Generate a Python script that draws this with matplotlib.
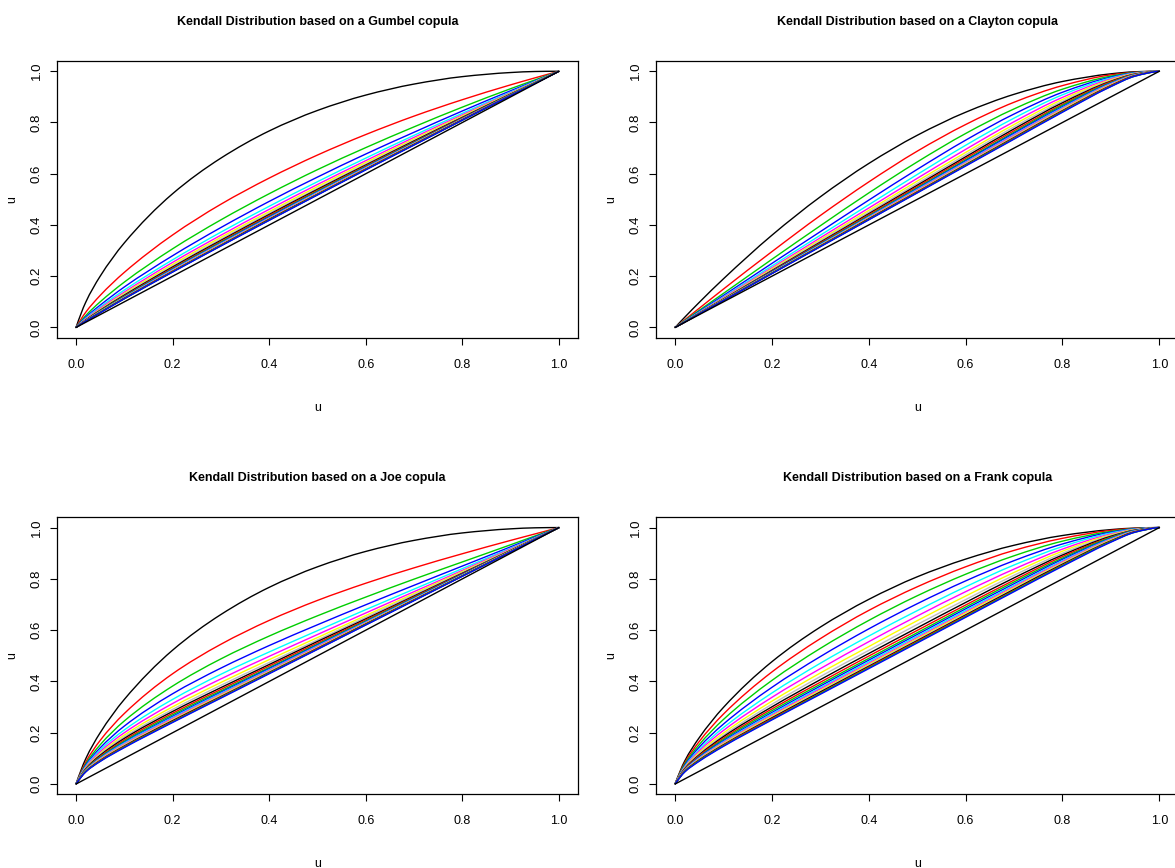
import numpy as np
import matplotlib
matplotlib.use("Agg")
import matplotlib.pyplot as plt
from matplotlib.path import Path
from matplotlib.patches import PathPatch

# grid of u values where the curves were read
u = [0, 0.02, 0.05, 0.1, 0.2, 0.3, 0.4, 0.5, 0.6, 0.7, 0.8, 0.9, 0.95, 1]

# one row per curve (parameter 1..20)
gumbel = [
    [0, .098, .200, .330, .522, .661, .767, .847, .907, .950, .979, .995, .999, 1],
    [0, .059, .125, .215, .361, .481, .583, .673, .753, .825, .889, .947, .974, 1],
    [0, .046, .100, .177, .307, .420, .522, .616, .702, .783, .860, .932, .966, 1],
    [0, .040, .087, .158, .280, .390, .492, .587, .677, .762, .845, .924, .962, 1],
    [0, .036, .080, .146, .264, .372, .473, .569, .661, .750, .836, .919, .960, 1],
    [0, .033, .075, .138, .254, .360, .461, .558, .651, .742, .830, .916, .958, 1],
    [0, .031, .071, .133, .246, .352, .452, .550, .644, .736, .826, .914, .957, 1],
    [0, .030, .069, .129, .240, .345, .446, .543, .638, .731, .822, .912, .956, 1],
    [0, .029, .067, .126, .236, .340, .441, .539, .634, .728, .820, .911, .955, 1],
    [0, .028, .065, .123, .232, .336, .437, .535, .631, .725, .818, .909, .955, 1],
    [0, .027, .064, .121, .229, .333, .433, .532, .628, .723, .816, .909, .954, 1],
    [0, .027, .062, .119, .227, .330, .431, .529, .626, .721, .815, .908, .954, 1],
    [0, .026, .062, .118, .225, .328, .428, .527, .624, .719, .814, .907, .954, 1],
    [0, .026, .061, .116, .223, .326, .426, .525, .622, .718, .813, .907, .953, 1],
    [0, .025, .060, .115, .221, .324, .424, .523, .620, .717, .812, .906, .953, 1],
    [0, .025, .059, .114, .220, .323, .423, .522, .619, .716, .811, .906, .953, 1],
    [0, .025, .059, .114, .219, .321, .422, .520, .618, .715, .811, .906, .953, 1],
    [0, .024, .058, .113, .218, .320, .420, .519, .617, .714, .810, .905, .953, 1],
    [0, .024, .058, .112, .217, .319, .419, .518, .616, .713, .809, .905, .953, 1],
    [0, .024, .057, .112, .216, .318, .418, .517, .615, .712, .809, .905, .952, 1],
]

clayton = [
    [0, .040, .098, .190, .360, .510, .640, .750, .840, .910, .960, .990, .998, 1],
    [0, .030, .075, .150, .296, .437, .568, .688, .792, .879, .944, .986, .996, 1],
    [0, .027, .067, .133, .266, .397, .525, .646, .757, .853, .930, .981, .995, 1],
    [0, .025, .063, .125, .250, .374, .497, .617, .731, .833, .918, .977, .994, 1],
    [0, .024, .060, .120, .240, .360, .479, .597, .711, .817, .908, .974, .993, 1],
    [0, .023, .058, .117, .233, .350, .466, .582, .695, .803, .898, .970, .992, 1],
    [0, .023, .057, .114, .229, .343, .457, .571, .683, .792, .890, .967, .991, 1],
    [0, .023, .056, .113, .225, .338, .450, .562, .674, .783, .883, .964, .990, 1],
    [0, .022, .056, .111, .222, .333, .444, .555, .666, .775, .877, .961, .989, 1],
    [0, .022, .055, .110, .220, .330, .440, .550, .660, .768, .871, .959, .988, 1],
    [0, .022, .055, .109, .218, .327, .436, .545, .654, .762, .867, .956, .987, 1],
    [0, .022, .054, .108, .217, .325, .433, .542, .650, .758, .862, .954, .986, 1],
    [0, .022, .054, .108, .215, .323, .431, .539, .646, .753, .858, .952, .986, 1],
    [0, .021, .054, .107, .214, .321, .429, .536, .643, .750, .855, .950, .985, 1],
    [0, .021, .053, .107, .213, .320, .427, .533, .640, .746, .852, .948, .984, 1],
    [0, .021, .053, .106, .213, .319, .425, .531, .638, .744, .849, .946, .983, 1],
    [0, .021, .053, .106, .212, .318, .424, .529, .635, .741, .846, .944, .983, 1],
    [0, .021, .053, .106, .211, .317, .422, .528, .633, .739, .844, .943, .982, 1],
    [0, .021, .053, .105, .211, .316, .421, .526, .632, .737, .842, .941, .981, 1],
    [0, .021, .053, .105, .210, .315, .420, .525, .630, .735, .840, .940, .981, 1],
]

joe = [
    [0, .098, .200, .330, .522, .661, .767, .847, .907, .950, .979, .995, .999, 1],
    [0, .085, .170, .275, .430, .545, .638, .716, .783, .843, .898, .950, .975, 1],
    [0, .078, .153, .246, .382, .488, .577, .656, .729, .799, .866, .933, .967, 1],
    [0, .073, .141, .226, .352, .452, .540, .621, .699, .775, .850, .925, .963, 1],
    [0, .069, .133, .211, .330, .428, .515, .598, .680, .760, .840, .920, .960, 1],
    [0, .066, .126, .200, .314, .410, .498, .583, .667, .750, .833, .917, .958, 1],
    [0, .063, .120, .191, .301, .396, .485, .571, .657, .743, .829, .914, .957, 1],
    [0, .061, .116, .184, .291, .385, .474, .562, .650, .738, .825, .913, .956, 1],
    [0, .059, .112, .178, .283, .376, .466, .556, .644, .733, .822, .911, .956, 1],
    [0, .057, .108, .172, .276, .369, .460, .550, .640, .730, .820, .910, .955, 1],
    [0, .056, .105, .167, .270, .363, .454, .545, .636, .727, .818, .909, .955, 1],
    [0, .054, .102, .163, .264, .358, .450, .542, .633, .725, .817, .908, .954, 1],
    [0, .053, .100, .160, .260, .354, .446, .539, .631, .723, .815, .908, .954, 1],
    [0, .052, .098, .156, .256, .350, .443, .536, .629, .721, .814, .907, .954, 1],
    [0, .051, .096, .153, .252, .347, .440, .533, .627, .720, .813, .907, .953, 1],
    [0, .050, .094, .151, .249, .344, .438, .531, .625, .719, .813, .906, .953, 1],
    [0, .049, .092, .148, .247, .341, .435, .529, .624, .718, .812, .906, .953, 1],
    [0, .048, .091, .146, .244, .339, .433, .528, .622, .717, .811, .906, .953, 1],
    [0, .048, .089, .144, .242, .337, .432, .526, .621, .716, .811, .905, .953, 1],
    [0, .047, .088, .142, .240, .335, .430, .525, .620, .715, .810, .905, .953, 1],
]

frank = [
    [0, .090, .181, .299, .477, .612, .720, .808, .877, .931, .969, .992, .998, 1],
    [0, .083, .166, .273, .437, .567, .677, .769, .847, .911, .958, .989, .997, 1],
    [0, .078, .154, .252, .404, .529, .638, .734, .818, .890, .947, .985, .996, 1],
    [0, .073, .144, .234, .377, .497, .605, .703, .792, .871, .936, .982, .995, 1],
    [0, .069, .135, .220, .355, .471, .577, .676, .769, .854, .926, .979, .994, 1],
    [0, .066, .129, .209, .338, .450, .555, .655, .750, .838, .916, .975, .993, 1],
    [0, .064, .123, .199, .323, .433, .536, .637, .733, .825, .908, .972, .992, 1],
    [0, .062, .118, .191, .311, .419, .521, .622, .719, .814, .900, .969, .991, 1],
    [0, .060, .114, .185, .301, .407, .509, .609, .708, .804, .893, .966, .990, 1],
    [0, .058, .111, .179, .293, .397, .499, .599, .698, .795, .887, .963, .989, 1],
    [0, .056, .107, .174, .286, .389, .490, .590, .690, .788, .881, .961, .989, 1],
    [0, .055, .105, .169, .279, .382, .483, .583, .683, .781, .876, .958, .988, 1],
    [0, .054, .102, .165, .274, .376, .477, .577, .677, .775, .871, .956, .987, 1],
    [0, .053, .100, .162, .269, .371, .471, .571, .671, .770, .867, .954, .986, 1],
    [0, .052, .098, .159, .265, .366, .467, .567, .667, .766, .863, .952, .985, 1],
    [0, .051, .096, .156, .261, .362, .463, .563, .662, .762, .860, .950, .984, 1],
    [0, .050, .094, .153, .258, .359, .459, .559, .659, .759, .857, .948, .984, 1],
    [0, .049, .092, .151, .255, .355, .456, .556, .656, .755, .854, .946, .983, 1],
    [0, .048, .091, .149, .252, .353, .453, .553, .653, .753, .852, .945, .982, 1],
    [0, .047, .089, .147, .250, .350, .450, .550, .650, .750, .849, .943, .982, 1],
]

titles = ["Kendall Distribution based on a Gumbel copula",
          "Kendall Distribution based on a Clayton copula",
          "Kendall Distribution based on a Joe copula",
          "Kendall Distribution based on a Frank copula"]
ticks = [0.0, 0.2, 0.4, 0.6, 0.8, 1.0]

# R default palette, recycled
pal = ["#000000", "#FF0000", "#00CD00", "#0000FF", "#00FFFF", "#FF00FF", "#FFFF00", "#BEBEBE"]

font = ["Liberation Sans", "DejaVu Sans"]


def end_slope(h0, h1, d0, d1):
    m = ((2 * h0 + h1) * d0 - h0 * d1) / (h0 + h1)
    if np.sign(m) != np.sign(d0):
        return 0.0
    if np.sign(d0) != np.sign(d1) and abs(m) > 3 * abs(d0):
        return 3 * d0
    return m


def smooth_path(x, y):
    # monotone cubic (pchip-style) bezier drawn through the read points
    x = np.asarray(x, float)
    y = np.asarray(y, float)
    h = np.diff(x)
    d = np.diff(y) / h
    m = np.zeros_like(x)
    for i in range(1, len(x) - 1):
        if d[i - 1] * d[i] > 0:
            w1 = 2 * h[i] + h[i - 1]
            w2 = h[i] + 2 * h[i - 1]
            m[i] = (w1 + w2) / (w1 / d[i - 1] + w2 / d[i])
    m[0] = end_slope(h[0], h[1], d[0], d[1])
    m[-1] = end_slope(h[-1], h[-2], d[-1], d[-2])
    verts = [(x[0], y[0])]
    codes = [Path.MOVETO]
    for i in range(len(h)):
        verts += [(x[i] + h[i] / 3, y[i] + m[i] * h[i] / 3),
                  (x[i + 1] - h[i] / 3, y[i + 1] - m[i + 1] * h[i] / 3),
                  (x[i + 1], y[i + 1])]
        codes += [Path.CURVE4] * 3
    return Path(verts, codes)


W, H = 1175, 868
fig = plt.figure(figsize=(W / 100, H / 100), dpi=100)

# plot boxes in pixels: left, top, right, bottom
boxes = [(56.7, 61, 578.3, 337.7), (655.7, 61, 1178.7, 337.7),
         (56.7, 517.3, 578.3, 794.3), (655.7, 517.3, 1178.7, 794.3)]

for box, curves, title in zip(boxes, [gumbel, clayton, joe, frank], titles):
    x0, y0, x1, y1 = box
    ax = fig.add_axes([x0 / W, 1 - y1 / H, (x1 - x0) / W, (y1 - y0) / H])
    for i, k in enumerate(curves):
        ax.add_patch(PathPatch(smooth_path(u, k), fill=False,
                               edgecolor=pal[i % len(pal)], lw=1.0))
    ax.plot(u, u, color="black", lw=1.0)

    ax.set_xlim(-0.04, 1.04)
    ax.set_ylim(-0.04, 1.04)
    ax.set_xticks(ticks)
    ax.set_yticks(ticks)
    ax.set_xticklabels([f"{t:.1f}" for t in ticks], family=font, fontsize=9)
    ax.set_yticklabels([f"{t:.1f}" for t in ticks], family=font, fontsize=9.5,
                       rotation=90, va="center")
    ax.tick_params(axis="both", direction="out", length=5, width=0.8)
    ax.tick_params(axis="x", pad=10)
    ax.tick_params(axis="y", pad=5)
    for s in ax.spines.values():
        s.set_linewidth(0.9)

    cx = (x0 + x1) / 2
    cy = (y0 + y1) / 2
    fig.text(cx / W, 1 - (y0 - 39) / H, title, ha="center", va="center",
             family=font, fontweight="bold", fontsize=9)
    fig.text(cx / W, 1 - (y1 + 70) / H, "u", ha="center", va="center",
             family=font, fontsize=9)
    fig.text((x0 - 44) / W, 1 - cy / H, "u", ha="center", va="center",
             family=font, fontsize=9, rotation=90)

fig.savefig("out.png", dpi=100)
